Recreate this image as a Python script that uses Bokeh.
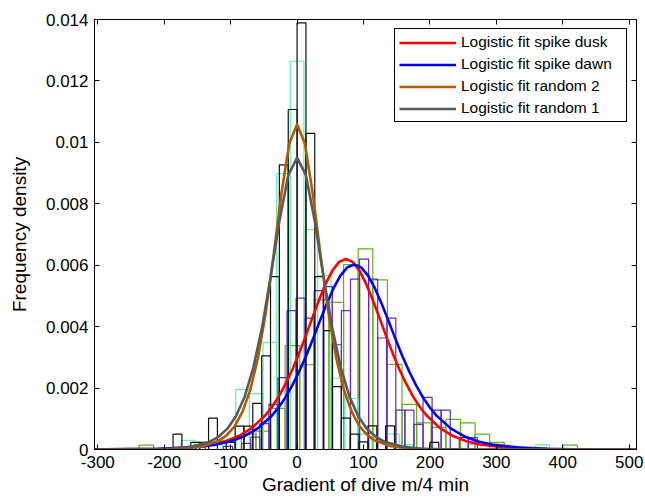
from bokeh.plotting import figure
from bokeh.models import (Range1d, FixedTicker, LinearAxis, Legend, LegendItem,
                          ColumnDataSource)
from bokeh.embed import file_html
from bokeh.resources import INLINE

# ---------------- data ----------------
x_ticks = [-300, -200, -100, 0, 100, 200, 300, 400, 500]
x_tick_labels = ["-300", "-200", "-100", "0", "100", "200", "300", "400", "500"]
y_ticks = [0, 0.002, 0.004, 0.006, 0.008, 0.01, 0.012, 0.014]
y_tick_labels = ["0", "0.002", "0.004", "0.006", "0.008", "0.01", "0.012", "0.014"]

# histogram: black (bin width 13.33)
black_width = 13.33
black_left = [-186.7, -160.0, -146.7, -133.3, -106.7, -93.3, -80.0, -66.7, -53.3, -40.0,
              -26.7, -13.3, 0.0, 13.3, 26.7, 40.0, 53.3, 66.7, 80.0, 93.3,
              106.7, 120.0, 133.3, 200.0]
black_height = [0.0005, 0.00023, 0.00023, 0.00102, 0.00023, 0.00076, 0.00076, 0.0015, 0.00305, 0.00563,
                0.00927, 0.01107, 0.01389, 0.01029, 0.00563, 0.00387, 0.00205, 0.00102, 0.0005, 0.00025,
                0.00077, 0.00025, 0.00077, 0.00023]

# histogram: aquamarine (bin width 20.5)
aqua_width = 20.5
aqua_left = [-174.25, -153.75, -112.75, -92.25, -71.75, -51.25, -30.75, -10.25, 10.25, 30.75,
             51.25, 71.75, 92.25, 133.25, 153.75, 256.75, 359.25]
aqua_height = [0.0003, 0.00023, 0.0003, 0.00196, 0.00182, 0.00349, 0.00898, 0.01264, 0.00716, 0.00566,
               0.00232, 0.00166, 0.0005, 0.0005, 0.00016, 0.00016, 0.00015]

# histogram: green (bin width 22)
green_width = 22.0
green_left = [-238, -84, -62, -40, -18, 4, 26, 48, 70, 92,
              114, 136, 158, 180, 202, 224, 246, 268, 290, 312, 400]
green_height = [0.00014, 0.0005, 0.0006, 0.00134, 0.00338, 0.00276, 0.00487, 0.00479, 0.00602, 0.00653,
                0.00552, 0.00277, 0.00147, 0.00087, 0.00072, 0.00098, 0.00087, 0.0005, 0.00023, 0.0001, 0.00014]

# histogram: purple (bin width 13.65)
purple_width = 13.65
purple_left = [-151.65, -110.7, -83.4, -69.75, -56.1, -42.45, -28.8, -15.15, -1.5, 12.15,
               25.8, 39.45, 53.1, 66.75, 80.4, 94.05, 107.7, 121.35, 135.0, 148.65,
               162.3, 175.95, 189.6, 203.25, 216.9, 244.2, 257.85]
purple_height = [0.00008, 0.0001, 0.0002, 0.0004, 0.00084, 0.00147, 0.00234, 0.00452, 0.00493, 0.00428,
                 0.00517, 0.0053, 0.00341, 0.00452, 0.00555, 0.0062, 0.00555, 0.00363, 0.00428, 0.00128,
                 0.00128, 0.00082, 0.0017, 0.00128, 0.00128, 0.00039, 0.00039]

# fitted curves
red_x = [-305, -289.2, -208.6, -168.3, -128.0, -107.9, -87.7, -67.6, -47.4, -37.3,
         -27.3, -17.2, -7.1, 3.0, 13.05, 23.1, 33.2, 43.3, 53.35, 63.4,
         73.5, 83.6, 93.65, 103.7, 113.8, 123.9, 133.95, 144.0, 154.1, 164.2,
         174.25, 184.3, 194.4, 214.55, 234.7, 254.85, 275.0, 315.3, 355.6, 395.9,
         476.5, 511]
red_y = [0.000002, 0.0000031, 0.0000226, 0.0000613, 0.000165, 0.000269, 0.000438, 0.000707, 0.001122, 0.001402,
         0.001739, 0.002141, 0.002605, 0.003129, 0.0037, 0.004295, 0.004878, 0.005407, 0.005831, 0.006107,
         0.006204, 0.006107, 0.005831, 0.005407, 0.004878, 0.004295, 0.0037, 0.003129, 0.002605, 0.002141,
         0.001739, 0.001402, 0.001122, 0.000707, 0.000438, 0.000269, 0.000165, 0.0000613, 0.0000226, 0.0000083,
         0.0000011, 0.0000005]

blue_x = [-305, -287.5, -204.5, -163.0, -121.5, -100.75, -80.0, -59.25, -38.5, -28.1,
          -17.75, -7.4, 3.0, 13.4, 23.75, 34.1, 44.5, 54.9, 65.25, 75.6,
          86.0, 96.4, 106.75, 117.1, 127.5, 137.9, 148.25, 158.6, 169.0, 179.4,
          189.75, 200.1, 210.5, 231.25, 252.0, 272.75, 293.5, 335.0, 376.5, 418.0,
          501.0, 511]
blue_y = [0.0000019, 0.000003, 0.0000219, 0.0000595, 0.00016, 0.000262, 0.000426, 0.000687, 0.001089, 0.001361,
          0.001689, 0.00208, 0.00253, 0.003039, 0.003593, 0.004171, 0.004737, 0.005251, 0.005663, 0.00593,
          0.006024, 0.00593, 0.005663, 0.005251, 0.004737, 0.004171, 0.003593, 0.003039, 0.00253, 0.00208,
          0.001689, 0.001361, 0.001089, 0.000687, 0.000426, 0.000262, 0.00016, 0.0000595, 0.0000219, 0.0000081,
          0.0000011, 0.0000008]

brown_x = [-305, -236.0, -188.8, -165.2, -141.6, -118.0, -106.2, -94.4, -82.6, -70.8,
           -59.0, -47.2, -35.4, -23.6, -11.8, 0.0, 11.8, 23.6, 35.4, 47.2,
           59.0, 70.8, 82.6, 94.4, 106.2, 118.0, 141.6, 165.2, 188.8, 236.0, 511]
brown_y = [0.0000001, 0.0000019, 0.0000142, 0.0000386, 0.0001047, 0.000282, 0.00046, 0.000748, 0.001208, 0.001915,
           0.00297, 0.004449, 0.006317, 0.00833, 0.009957, 0.010593, 0.009957, 0.00833, 0.006317, 0.004449,
           0.00297, 0.001915, 0.001208, 0.000748, 0.00046, 0.000282, 0.0001047, 0.0000386, 0.0000142, 0.0000019, 0.0]

grey_x = [-305, -263.0, -210.4, -184.1, -157.8, -131.5, -118.4, -105.2, -92.1, -78.9,
          -65.8, -52.6, -39.5, -26.3, -13.2, 0.0, 13.2, 26.3, 39.5, 52.6,
          65.8, 78.9, 92.1, 105.2, 118.4, 131.5, 157.8, 184.1, 210.4, 263.0, 511]
grey_y = [0.0000001, 0.0000017, 0.0000127, 0.0000346, 0.0000939, 0.000253, 0.000413, 0.000671, 0.001084, 0.001719,
          0.002665, 0.003992, 0.005669, 0.007475, 0.008935, 0.009505, 0.008935, 0.007475, 0.005669, 0.003992,
          0.002665, 0.001719, 0.001084, 0.000671, 0.000413, 0.000253, 0.0000939, 0.0000346, 0.0000127, 0.0000017, 0.0]

curve_labels = ["Logistic fit spike dusk", "Logistic fit spike dawn",
                "Logistic fit random 2", "Logistic fit random 1"]

# ---------------- figure ----------------
FONT = "Liberation Sans"

p = figure(width=645, height=499, output_backend="svg", toolbar_location=None,
           x_range=Range1d(-305, 511), y_range=Range1d(0, 0.014),
           min_border_left=94, min_border_right=9, min_border_top=19, min_border_bottom=50,
           title=None)
p.background_fill_color = "white"
p.border_fill_color = "white"
p.xgrid.visible = False
p.ygrid.visible = False
p.outline_line_color = "black"
p.outline_line_width = 1
p.outline_line_alpha = 1.0


def hist(left, height, width, color):
    src = ColumnDataSource(dict(left=left,
                                right=[l + width for l in left],
                                top=height,
                                bottom=[0] * len(left)))
    p.quad(left="left", right="right", top="top", bottom="bottom", source=src,
           fill_color=None, line_color=color, line_width=1.2)


hist(green_left, green_height, green_width, "#5fb21c")
hist(aqua_left, aqua_height, aqua_width, "#62f0b0")
hist(purple_left, purple_height, purple_width, "#6428bd")
hist(black_left, black_height, black_width, "#111111")

r_red = p.line(red_x, red_y, line_color="#ff0000", line_width=2.6, line_join="round")
r_blue = p.line(blue_x, blue_y, line_color="#0000ff", line_width=2.6, line_join="round")
r_brown = p.line(brown_x, brown_y, line_color="#b35a00", line_width=2.6, line_join="round")
r_grey = p.line(grey_x, grey_y, line_color="#5a5a5a", line_width=2.6, line_join="round")

# ---------------- axes ----------------
xax = p.xaxis[0]
xax.ticker = FixedTicker(ticks=x_ticks)
xax.major_label_overrides = {t: l for t, l in zip(x_ticks, x_tick_labels)}
xax.axis_label = "Gradient of dive m/4 min"
yax = p.yaxis[0]
yax.ticker = FixedTicker(ticks=y_ticks)
yax.major_label_overrides = {t: l for t, l in zip(y_ticks, y_tick_labels)}
yax.axis_label = "Frequency density"

for ax in (xax, yax):
    ax.major_tick_in = 5
    ax.major_tick_out = 0
    ax.minor_tick_line_color = None
    ax.axis_line_color = "black"
    ax.major_tick_line_color = "black"
    ax.major_label_text_font = FONT
    ax.major_label_text_font_size = "17px"
    ax.major_label_text_color = "black"
    ax.axis_label_text_font = FONT
    ax.axis_label_text_font_size = "19px"
    ax.axis_label_text_font_style = "normal"
    ax.axis_label_text_color = "black"
xax.major_label_standoff = 6
xax.axis_label_standoff = 3
yax.major_label_standoff = 6
yax.axis_label_standoff = 13

right = LinearAxis(ticker=FixedTicker(ticks=y_ticks),
                   major_label_overrides={t: "" for t in y_ticks})
top = LinearAxis(ticker=FixedTicker(ticks=x_ticks),
                 major_label_overrides={t: "" for t in x_ticks})
for ax in (right, top):
    ax.major_tick_in = 5
    ax.major_tick_out = 0
    ax.minor_tick_line_color = None
    ax.major_label_standoff = 0
    ax.axis_line_color = "black"
    ax.major_tick_line_color = "black"
    ax.major_label_text_font_size = "1px"
p.add_layout(right, "right")
p.add_layout(top, "above")

# ---------------- legend ----------------
legend = Legend(items=[LegendItem(label=curve_labels[0], renderers=[r_red]),
                       LegendItem(label=curve_labels[1], renderers=[r_blue]),
                       LegendItem(label=curve_labels[2], renderers=[r_brown]),
                       LegendItem(label=curve_labels[3], renderers=[r_grey])],
                location="top_right")
legend.margin = 9
legend.padding = 4
legend.spacing = 4
legend.title_standoff = 0
legend.glyph_width = 57
legend.glyph_height = 17
legend.label_height = 17
legend.label_width = 161
legend.label_standoff = 5
legend.label_text_font = FONT
legend.label_text_font_size = "15.5px"
legend.label_text_color = "black"
legend.border_line_color = "black"
legend.border_line_width = 1
legend.border_line_alpha = 1.0
legend.background_fill_color = "white"
legend.background_fill_alpha = 1.0
p.add_layout(legend)

open("out.html", "w").write(file_html(p, INLINE))
